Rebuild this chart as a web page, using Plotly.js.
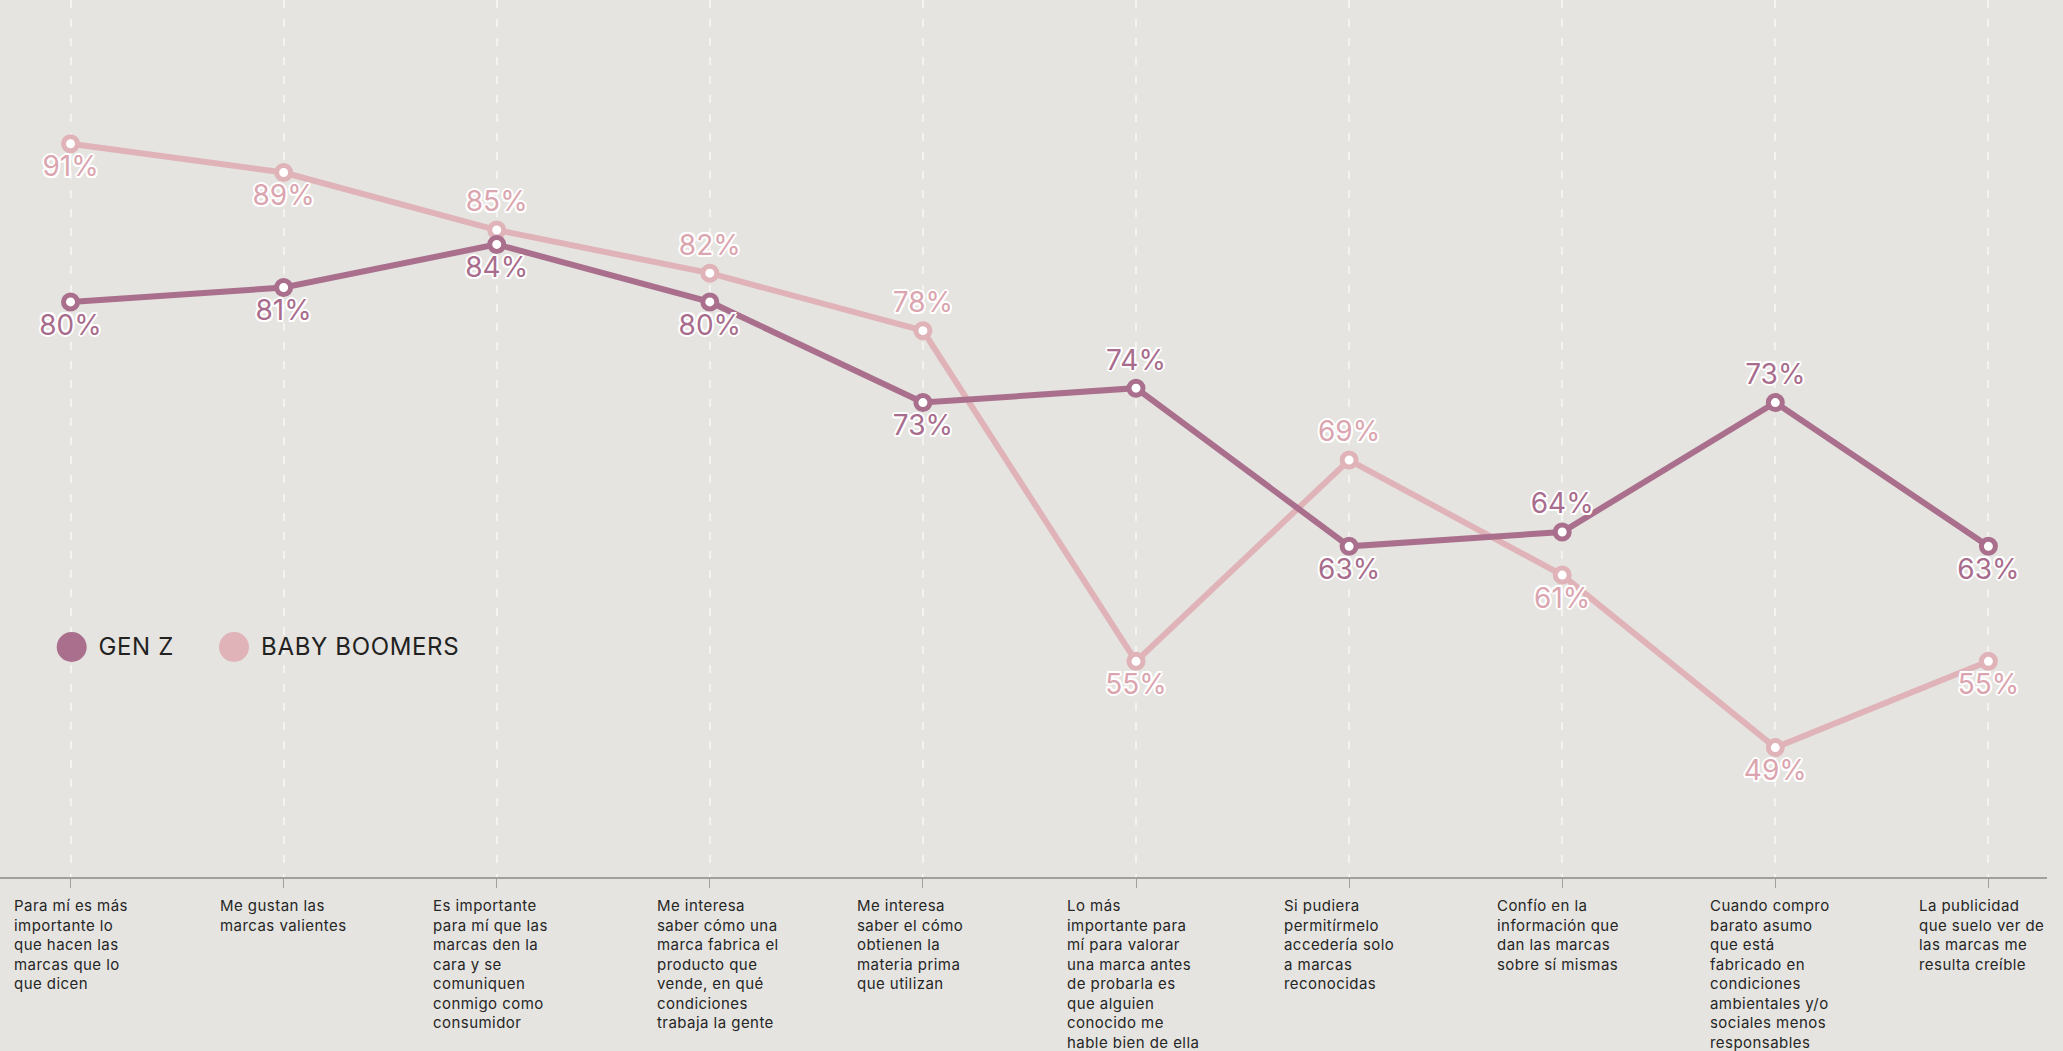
<!DOCTYPE html>
<html>
<head>
<meta charset="utf-8">
<script src="https://cdn.plot.ly/plotly-3.0.1.min.js"></script>
<style>
  html, body { margin: 0; padding: 0; background: #e5e4e0; }
  #chart { width: 2063px; height: 1051px; }
  g.annotation:not([data-index="10"]):not([data-index="11"]) text.annotation-text { letter-spacing: 0.45px; }
  g.annotation[data-index="10"] text.annotation-text,
  g.annotation[data-index="11"] text.annotation-text { letter-spacing: 0.65px; }
</style>
</head>
<body>
<div id="chart"></div>
<script>
// ---- data ----
const categories = [
  "Para mí es más<br>importante lo<br>que hacen las<br>marcas que lo<br>que dicen",
  "Me gustan las<br>marcas valientes",
  "Es importante<br>para mí que las<br>marcas den la<br>cara y se<br>comuniquen<br>conmigo como<br>consumidor",
  "Me interesa<br>saber cómo una<br>marca fabrica el<br>producto que<br>vende, en qué<br>condiciones<br>trabaja la gente",
  "Me interesa<br>saber el cómo<br>obtienen la<br>materia prima<br>que utilizan",
  "Lo más<br>importante para<br>mí para valorar<br>una marca antes<br>de probarla es<br>que alguien<br>conocido me<br>hable bien de ella",
  "Si pudiera<br>permitírmelo<br>accedería solo<br>a marcas<br>reconocidas",
  "Confío en la<br>información que<br>dan las marcas<br>sobre sí mismas",
  "Cuando compro<br>barato asumo<br>que está<br>fabricado en<br>condiciones<br>ambientales y/o<br>sociales menos<br>responsables",
  "La publicidad<br>que suelo ver de<br>las marcas me<br>resulta creíble"
];
const genZ = [80, 81, 84, 80, 73, 74, 63, 64, 73, 63];
const boomers = [91, 89, 85, 82, 78, 55, 69, 61, 49, 55];
const genZLabelPos = ["bottom center","bottom center","bottom center","bottom center","bottom center","top center","bottom center","top center","top center","bottom center"];
const boomersLabelPos = ["bottom center","bottom center","top center","top center","top center","bottom center","top center","bottom center","bottom center","bottom center"];
const seriesNames = ["GEN Z", "BABY BOOMERS"];

// ---- style ----
const colGenZ = "#a96f8c";
const colBoom = "#e0b3b8";
const labGenZ = "#a86d8c";
const labBoom = "#dba5af";
const bg = "#e5e4e0";
const halo = "-1.5px -1.5px 0 #fff, 1.5px -1.5px 0 #fff, -1.5px 1.5px 0 #fff, 1.5px 1.5px 0 #fff, 0 2px 0 #fff, 0 -2px 0 #fff, 2px 0 0 #fff, -2px 0 0 #fff";
// horizontal nudges (px) of the category label blocks
const labelShift = [-3, -4, -10, 5, -16, -7, -13, -8, -8, -10];

const xs = categories.map((c, i) => i);

function lineTrace(name, ys, lineCol) {
  return {
    type: "scatter",
    mode: "lines+markers",
    name: name,
    x: xs,
    y: ys,
    line: { color: lineCol, width: 6 },
    marker: { size: 14, color: "#ffffff", line: { color: lineCol, width: 5 } },
    cliponaxis: false,
    showlegend: false,
    hoverinfo: "skip"
  };
}
function labelTrace(name, ys, labCol, pos) {
  return {
    type: "scatter",
    mode: "markers+text",
    name: name + " labels",
    x: xs,
    y: ys,
    text: ys.map(v => v + "%"),
    textposition: pos,
    textfont: { family: "Inter, sans-serif", size: 28, color: labCol, shadow: halo },
    marker: { size: 17, opacity: 0 },
    cliponaxis: false,
    showlegend: false,
    hoverinfo: "skip"
  };
}

const traces = [
  lineTrace(seriesNames[1], boomers, colBoom),
  lineTrace(seriesNames[0], genZ, colGenZ),
  labelTrace(seriesNames[1], boomers, labBoom, boomersLabelPos),
  labelTrace(seriesNames[0], genZ, labGenZ, genZLabelPos)
];

const plotW = 2047;
const annotations = categories.map((c, i) => ({
  x: i, xref: "x", y: 0, yref: "paper",
  text: c, showarrow: false,
  xanchor: "center", yanchor: "top", align: "left",
  xshift: labelShift[i],
  yshift: -17,
  font: { family: "Inter, sans-serif", size: 15, color: "#262626" }
}));

// legend (text + swatches)
const legendItems = [
  { name: seriesNames[0], color: colGenZ, cx: 71.7, tx: 98 },
  { name: seriesNames[1], color: colBoom, cx: 234, tx: 263 }
];
const legY = (877 - 647) / 877;
const shapes = [];
legendItems.forEach(it => {
  annotations.push({
    x: it.tx / plotW, xref: "paper", y: legY, yref: "paper",
    text: it.name, showarrow: false, xanchor: "left", yanchor: "middle",
    font: { family: "Inter, sans-serif", size: 24, color: "#222222" }
  });
  shapes.push({
    type: "circle", xref: "paper", yref: "paper",
    xsizemode: "pixel", ysizemode: "pixel",
    xanchor: it.cx / plotW, yanchor: legY,
    x0: -15, x1: 15, y0: -15, y1: 15,
    fillcolor: it.color, line: { width: 0 }, layer: "above"
  });
});

const layout = {
  width: 2063, height: 1051,
  margin: { l: 0, r: 16, t: 0, b: 174 },
  paper_bgcolor: bg, plot_bgcolor: bg,
  showlegend: false,
  xaxis: {
    type: "linear",
    range: [-0.331, 9.275],
    tickvals: xs,
    showticklabels: false,
    ticks: "outside", ticklen: 9, tickwidth: 1, tickcolor: "#a3a09b",
    showline: true, linecolor: "#a3a09b", linewidth: 1.5,
    showgrid: true, gridcolor: "rgba(255,255,255,0.55)", gridwidth: 2, griddash: "8px,11px",
    zeroline: false, fixedrange: true
  },
  yaxis: {
    range: [40, 101],
    showticklabels: false, showgrid: false, zeroline: false, showline: false,
    ticks: "", fixedrange: true
  },
  annotations: annotations,
  shapes: shapes,
  font: { family: "Inter, sans-serif" }
};

Plotly.newPlot("chart", traces, layout, { displayModeBar: false, staticPlot: true });
</script>
</body>
</html>
